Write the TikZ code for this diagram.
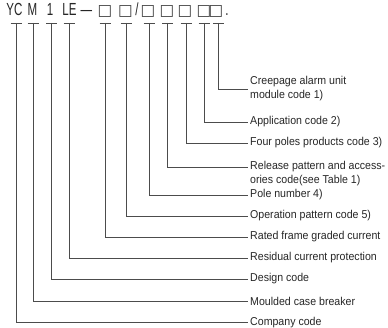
\documentclass[tikz,border=0pt]{standalone}
\usepackage{fontspec}
\setmainfont{Liberation Sans}
\newfontfamily\hdrfont[FakeStretch=0.66]{Liberation Sans}
\newfontfamily\labfont[FakeStretch=0.93]{Liberation Sans}
\newfontfamily\symfont{DejaVu Sans}
\begin{document}
\begin{tikzpicture}[x=1pt,y=1pt,
  conn/.style={draw=black!70, line width=0.9pt, shorten >=2.5pt},
  barline/.style={draw=black!70, line width=0.9pt},
  lab/.style={anchor=west, inner sep=0pt, font=\labfont\fontsize{11.4}{14}\selectfont, text=black!85, align=left},
  hdr/.style={anchor=base, inner sep=0pt, font=\hdrfont\fontsize{17.5}{17.5}\selectfont, text=black!85},
  boxc/.style={anchor=base, inner sep=0pt, font=\symfont\fontsize{15.5}{15.5}\selectfont, text=black!75}]
\useasboundingbox (0,0) rectangle (388,327);
% header
\node[hdr] (hYC) at (14.5,311) {YC};
\node[hdr] (hM)  at (32.5,311) {M};
\node[hdr] (h1)  at (50,311) {1};
\node[hdr] (hLE) at (69.5,311) {LE};
\node[hdr] (hD)  at (86.5,311) {—};
\node[boxc] (q1) at (105,311) {□};
\node[boxc] (q2) at (125.5,311) {□};
\node[hdr] (hS)  at (137,311) {/};
\node[boxc] (q3) at (148,311) {□};
\node[boxc] (q4) at (167,311) {□};
\node[boxc] (q5) at (185,311) {□};
\node[boxc] (q6) at (204,311) {□};
\node[boxc] (q7) at (216,311) {□};
\node[hdr] (hP)  at (227,311) {.};
% bar coordinates
\coordinate (b1) at (16,304);
\coordinate (b2) at (33,304);
\coordinate (b3) at (51.5,304);
\coordinate (b4) at (69,304);
\coordinate (b5) at (105,304);
\coordinate (b6) at (126,304);
\coordinate (b7) at (149,304);
\coordinate (b8) at (167.5,304);
\coordinate (b9) at (186,304);
\coordinate (b10) at (204,304);
\coordinate (b11) at (218.5,304);
\foreach \b in {b1,b2,b3,b4,b5,b6,b7,b8,b9,b10,b11}
  \draw[barline] ([xshift=-5.5pt]\b) -- ([xshift=5.5pt]\b);
% labels
\node[lab] (l11) at (250,238) {Creepage alarm unit\\module code 1)};
\node[lab] (l10) at (250,205) {Application code 2)};
\node[lab] (l9)  at (250,184) {Four poles products code 3)};
\node[lab] (l8)  at (250,153) {Release pattern and access-\\ories code(see Table 1)};
\node[lab] (l7)  at (250,132) {Pole number 4)};
\node[lab] (l6)  at (250,111) {Operation pattern code 5)};
\node[lab] (l5)  at (250,90) {Rated frame graded current};
\node[lab] (l4)  at (250,69) {Residual current protection};
\node[lab] (l3)  at (250,48) {Design code};
\node[lab] (l2)  at (250,26) {Moulded case breaker};
\node[lab] (l1)  at (250,4.5) {Company code};
% connectors
\draw[conn] (b11) |- (l11.west);
\draw[conn] (b10) |- (l10.west);
\draw[conn] (b9) |- (l9.west);
\draw[conn] (b8) |- ([yshift=7pt]l8.west);
\draw[conn] (b7) |- (l7.west);
\draw[conn] (b6) |- (l6.west);
\draw[conn] (b5) |- (l5.west);
\draw[conn] (b4) |- (l4.west);
\draw[conn] (b3) |- (l3.west);
\draw[conn] (b2) |- (l2.west);
\draw[conn] (b1) |- (l1.west);
\end{tikzpicture}
\end{document}
